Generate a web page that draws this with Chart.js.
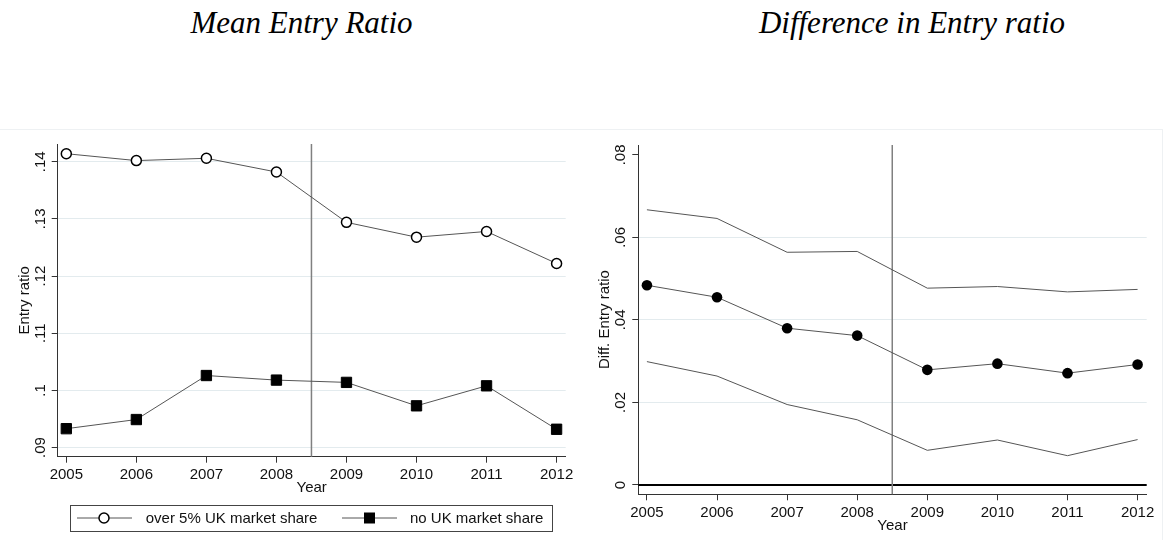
<!DOCTYPE html>
<html>
<head>
<meta charset="utf-8">
<script src="https://cdn.jsdelivr.net/npm/chart.js@4.4.1/dist/chart.umd.min.js"></script>
<style>
html,body{margin:0;padding:0;background:#fff;}
#wrap{position:relative;width:1165px;height:540px;overflow:hidden;background:#fff;}
canvas{position:absolute;left:0;top:0;}
.title{position:absolute;font-family:"Liberation Serif","Times New Roman",serif;font-style:italic;font-size:31px;color:#000;white-space:nowrap;transform:translateX(-50%);line-height:1;}
.frame{position:absolute;background:#eef1f3;}
</style>
</head>
<body>
<div id="wrap">
  <div class="frame" style="left:0;top:129px;width:1162px;height:1px"></div>
  <div class="frame" style="left:1162px;top:129px;width:1px;height:411px"></div>
  <div class="title" style="left:301.5px;top:7px">Mean Entry Ratio</div>
  <div class="title" style="left:912px;top:7px">Difference in Entry ratio</div>
  <div style="position:absolute;left:0;top:0;width:590px;height:540px"><canvas id="c1" width="590" height="540"></canvas></div>
  <div style="position:absolute;left:590px;top:0;width:575px;height:540px"><canvas id="c2" width="575" height="540"></canvas></div>
</div>
<script>
// ---------- data ----------
const years = [2005, 2006, 2007, 2008, 2009, 2010, 2011, 2012];
const over5Share = [0.1414, 0.1402, 0.1406, 0.1382, 0.1294, 0.1268, 0.1278, 0.1222];
const noUKShare  = [0.0933, 0.0949, 0.1026, 0.1018, 0.1014, 0.0973, 0.1008, 0.0932];
const yTicks1 = [0.09, 0.10, 0.11, 0.12, 0.13, 0.14];
const yTickLabels1 = ['.09', '.1', '.11', '.12', '.13', '.14'];

const diffMean  = [0.0484, 0.0455, 0.0380, 0.0362, 0.0279, 0.0294, 0.0271, 0.0292];
const diffUpper = [0.0667, 0.0646, 0.0564, 0.0566, 0.0477, 0.0481, 0.0468, 0.0474];
const diffLower = [0.0299, 0.0264, 0.0195, 0.0158, 0.0084, 0.0109, 0.0071, 0.0110];
const yTicks2 = [0, 0.02, 0.04, 0.06, 0.08];
const yTickLabels2 = ['0', '.02', '.04', '.06', '.08'];

const treatmentYear = 2008.5;
const legendLabels = ['over 5% UK market share', 'no UK market share'];

// ---------- helpers ----------
const FONT = '15px "Liberation Sans", Arial, Helvetica, sans-serif';
const TXT = '#111111';
const GRID = '#e3ebee';
const AXIS = '#333333';
const LINE = '#555555';
const pts = arr => years.map((x, i) => ({x: x, y: arr[i]}));

function xScale(height) {
  return {
    type: 'linear', min: 2004.877, max: 2012.13,
    afterBuildTicks: s => { s.ticks = years.map(v => ({value: v})); },
    afterFit: s => { s.height = height; },
    ticks: {display: false},
    grid: {drawOnChartArea: false, drawTicks: true, tickLength: 6, tickColor: AXIS, tickWidth: 1},
    border: {display: true, color: AXIS, width: 1}
  };
}
function yScale(min, max, ticks, width, skip) {
  return {
    type: 'linear', min: min, max: max,
    afterBuildTicks: s => { s.ticks = ticks.map(v => ({value: v})); },
    afterFit: s => { s.width = width; },
    ticks: {display: false},
    grid: {
      drawTicks: true, tickLength: 6, tickColor: AXIS, tickWidth: 1, lineWidth: 1,
      color: c => (c.tick && skip.some(v => Math.abs(v - c.tick.value) < 1e-9)) ? 'rgba(0,0,0,0)' : GRID
    },
    border: {display: true, color: AXIS, width: 1}
  };
}

function makePlugin(opts) {
  return {
    id: 'deco' + opts.id,
    beforeDatasetsDraw(chart) {
      const ctx = chart.ctx, a = chart.chartArea;
      const xs = chart.scales.x, ys = chart.scales.y;
      ctx.save();
      if (opts.zeroLine) {
        const y0 = ys.getPixelForValue(0);
        ctx.strokeStyle = '#000'; ctx.lineWidth = 2;
        ctx.beginPath(); ctx.moveTo(a.left, y0); ctx.lineTo(a.right, y0); ctx.stroke();
      }
      const xv = xs.getPixelForValue(treatmentYear);
      ctx.strokeStyle = '#808080'; ctx.lineWidth = 1.5;
      ctx.beginPath(); ctx.moveTo(xv, a.top); ctx.lineTo(xv, a.bottom); ctx.stroke();
      ctx.restore();
    },
    afterDraw(chart) {
      const ctx = chart.ctx, a = chart.chartArea;
      const xs = chart.scales.x, ys = chart.scales.y;
      ctx.save();
      ctx.font = FONT; ctx.fillStyle = TXT;
      // x tick labels
      ctx.textAlign = 'center'; ctx.textBaseline = 'middle';
      xs.ticks.forEach(t => {
        ctx.fillText(String(t.value), xs.getPixelForValue(t.value), a.bottom + 18.5);
      });
      // x title
      ctx.fillText('Year', (a.left + a.right) / 2, a.bottom + 31.5);
      // y tick labels rotated
      ys.ticks.forEach((t, i) => {
        const y = ys.getPixelForValue(t.value);
        ctx.save();
        ctx.translate(a.left - 17.3, y);
        ctx.rotate(-Math.PI / 2);
        ctx.fillText(opts.yLabels[i], 0, 0);
        ctx.restore();
      });
      // y title
      ctx.save();
      ctx.translate(a.left - 33, (a.top + a.bottom) / 2);
      ctx.rotate(-Math.PI / 2);
      ctx.fillText(opts.yTitle, 0, 0);
      ctx.restore();
      // legend
      if (opts.legend) {
        const ly = 518;
        ctx.strokeStyle = '#444'; ctx.lineWidth = 1;
        ctx.strokeRect(70.5, 505.5, 482, 26);
        // entry 1
        ctx.strokeStyle = LINE; ctx.lineWidth = 1;
        ctx.beginPath(); ctx.moveTo(77, ly); ctx.lineTo(132, ly); ctx.stroke();
        ctx.beginPath(); ctx.arc(104, ly, 5, 0, Math.PI * 2);
        ctx.fillStyle = '#fff'; ctx.fill();
        ctx.strokeStyle = '#000'; ctx.lineWidth = 1.5; ctx.stroke();
        // entry 2
        ctx.strokeStyle = LINE; ctx.lineWidth = 1;
        ctx.beginPath(); ctx.moveTo(342, ly); ctx.lineTo(397, ly); ctx.stroke();
        ctx.fillStyle = '#000'; ctx.fillRect(364, ly - 5.5, 11, 11);
        ctx.fillStyle = TXT; ctx.textAlign = 'left'; ctx.textBaseline = 'middle';
        ctx.fillText(legendLabels[0], 145.7, ly + 0.5);
        ctx.fillText(legendLabels[1], 410, ly + 0.5);
      }
      ctx.restore();
    }
  };
}

// ---------- chart 1 ----------
new Chart(document.getElementById('c1'), {
  type: 'line',
  data: {
    datasets: [
      {label: legendLabels[0], data: pts(over5Share), borderColor: LINE, borderWidth: 1,
       pointStyle: 'circle', pointRadius: 5, pointBorderWidth: 1.5,
       pointBorderColor: '#000', pointBackgroundColor: '#fff', tension: 0},
      {label: legendLabels[1], data: pts(noUKShare), borderColor: LINE, borderWidth: 1,
       pointStyle: 'rect', pointRadius: 7.3, pointBorderWidth: 1,
       pointBorderColor: '#000', pointBackgroundColor: '#000', tension: 0}
    ]
  },
  options: {
    responsive: false, animation: false, devicePixelRatio: 1,
    parsing: false,
    layout: {padding: {left: 0, top: 144, right: 24.3, bottom: 0}},
    plugins: {legend: {display: false}, tooltip: {enabled: false}},
    scales: {x: xScale(83.3), y: yScale(0.0884, 0.1431, yTicks1, 57.7, [])}
  },
  plugins: [makePlugin({id: 1, yLabels: yTickLabels1, yTitle: 'Entry ratio', legend: true, zeroLine: false})]
});

// ---------- chart 2 ----------
new Chart(document.getElementById('c2'), {
  type: 'line',
  data: {
    datasets: [
      {label: 'upper', data: pts(diffUpper), borderColor: LINE, borderWidth: 1, pointRadius: 0, tension: 0},
      {label: 'lower', data: pts(diffLower), borderColor: LINE, borderWidth: 1, pointRadius: 0, tension: 0},
      {label: 'mean', data: pts(diffMean), borderColor: LINE, borderWidth: 1,
       pointStyle: 'circle', pointRadius: 5.3, pointBorderWidth: 0,
       pointBackgroundColor: '#000', pointBorderColor: '#000', tension: 0}
    ]
  },
  options: {
    responsive: false, animation: false, devicePixelRatio: 1,
    parsing: false,
    layout: {padding: {left: 0, top: 145, right: 18.3, bottom: 0}},
    plugins: {legend: {display: false}, tooltip: {enabled: false}},
    scales: {x: xScale(45.7), y: yScale(-0.00226, 0.0824, yTicks2, 48.3, [0, 0.08])}
  },
  plugins: [makePlugin({id: 2, yLabels: yTickLabels2, yTitle: 'Diff. Entry ratio', legend: false, zeroLine: true})]
});
</script>
</body>
</html>
